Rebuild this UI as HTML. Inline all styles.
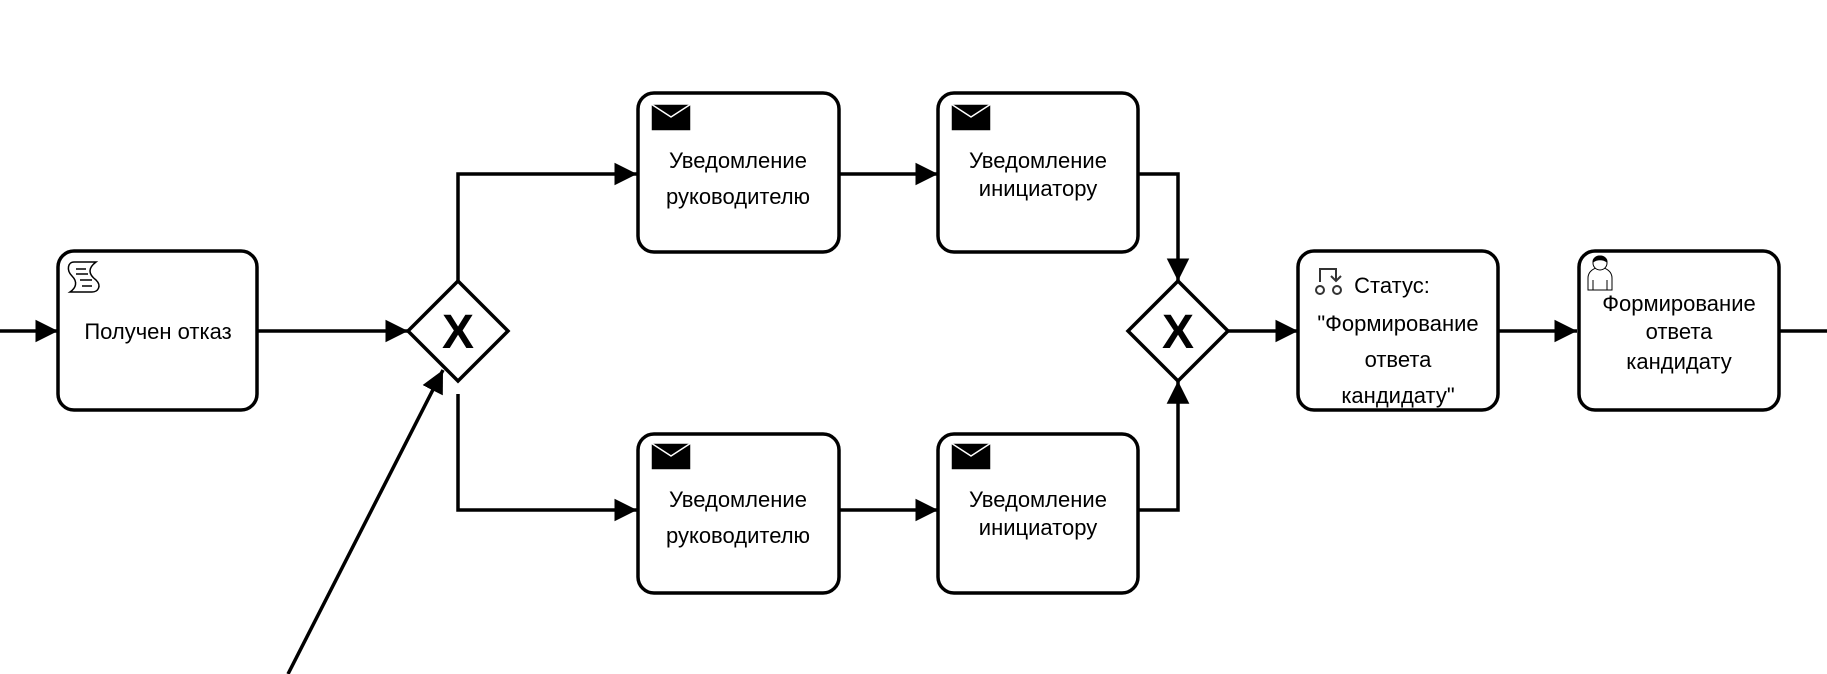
<!DOCTYPE html>
<html><head><meta charset="utf-8"><style>
html,body{margin:0;padding:0;background:#fff;}
svg{display:block;}
text{font-family:"Liberation Sans",Arial,sans-serif;font-size:22px;fill:#000;text-anchor:middle;}
</style></head><body>
<svg width="1827" height="674" viewBox="0 0 1827 674" xmlns="http://www.w3.org/2000/svg">
<defs>
<marker id="a" viewBox="0 0 10 10" refX="10" refY="5" markerWidth="6.5" markerHeight="6.5" markerUnits="strokeWidth" orient="auto">
<path d="M0,0 L10,5 L0,10 z" fill="#000"/></marker>
</defs>
<g stroke="#000" stroke-width="3.5" fill="none">
<line x1="0" y1="331" x2="58" y2="331" marker-end="url(#a)"/>
<line x1="257" y1="331" x2="408" y2="331" marker-end="url(#a)"/>
<polyline points="458,281 458,174 637,174" marker-end="url(#a)"/>
<polyline points="458,394 458,510 637,510" marker-end="url(#a)"/>
<line x1="839" y1="174" x2="938" y2="174" marker-end="url(#a)"/>
<line x1="839" y1="510" x2="938" y2="510" marker-end="url(#a)"/>
<polyline points="1138,174 1178,174 1178,281" marker-end="url(#a)"/>
<polyline points="1138,510 1178,510 1178,381" marker-end="url(#a)"/>
<line x1="1228" y1="331" x2="1298" y2="331" marker-end="url(#a)"/>
<line x1="1498" y1="331" x2="1577" y2="331" marker-end="url(#a)"/>
<line x1="1779" y1="331" x2="1827" y2="331"/>
<line x1="288" y1="674" x2="443" y2="370" marker-end="url(#a)"/>
<rect x="58" y="251" width="199" height="159" rx="16"/>
<rect x="638" y="93" width="201" height="159" rx="16"/>
<rect x="938" y="93" width="200" height="159" rx="16"/>
<rect x="638" y="434" width="201" height="159" rx="16"/>
<rect x="938" y="434" width="200" height="159" rx="16"/>
<rect x="1298" y="251" width="200" height="159" rx="16"/>
<rect x="1579" y="251" width="200" height="159" rx="16"/>
<polygon points="458,281 508,331 458,381 408,331" fill="#fff"/>
<polygon points="1178,281 1228,331 1178,381 1128,331" fill="#fff"/>
</g>
<text x="458" y="348" style="font-size:48px;font-weight:bold">X</text>
<text x="1178" y="348" style="font-size:48px;font-weight:bold">X</text>
<g fill="#000" stroke="#fff" stroke-width="1.5">
<path d="M651,104 h40 v27 h-40 z"/><path d="M651,104 l20,13 l20,-13" fill="none"/>
<path d="M951,104 h40 v27 h-40 z"/><path d="M951,104 l20,13 l20,-13" fill="none"/>
<path d="M651,443 h40 v27 h-40 z"/><path d="M651,443 l20,13 l20,-13" fill="none"/>
<path d="M951,443 h40 v27 h-40 z"/><path d="M951,443 l20,13 l20,-13" fill="none"/>
</g>
<g stroke="#000" stroke-width="1.5" fill="none">
<path d="M74,262 h22 c-8,6 -8,12 0,18 c6,6 2,12 -4,12 h-22 c6,-4 8,-10 2,-16 c-6,-6 -4,-14 2,-14 z"/>
<line x1="76" y1="269" x2="86" y2="269"/><line x1="76" y1="274" x2="88" y2="274"/>
<line x1="80" y1="280" x2="92" y2="280"/><line x1="82" y1="286" x2="92" y2="286"/>
</g>
<g stroke="#333" stroke-width="2" fill="none">
<path d="M1320,282 v-13 h16 v11"/><path d="M1331,276 l5,5 l5,-5"/>
<circle cx="1320" cy="290" r="4"/><circle cx="1337" cy="290" r="4"/>
</g>
<g stroke="#000" stroke-width="1">
<path d="M1588,290 v-12 c0,-8 8,-10 12,-12 c4,2 12,4 12,12 v12 z" fill="#fff"/>
<circle cx="1600" cy="263" r="7" fill="#fff"/>
<path d="M1593,262 c0,-8 14,-8 14,0 c-4,-3 -10,-3 -14,0 z" fill="#000"/>
<line x1="1593" y1="280" x2="1593" y2="290"/><line x1="1607" y1="280" x2="1607" y2="290"/>
</g>
<text x="158" y="339">Получен отказ</text>
<text x="738" y="168">Уведомление</text><text x="738" y="204">руководителю</text>
<text x="1038" y="168">Уведомление</text><text x="1038" y="196">инициатору</text>
<text x="738" y="507">Уведомление</text><text x="738" y="543">руководителю</text>
<text x="1038" y="507">Уведомление</text><text x="1038" y="535">инициатору</text>
<text x="1392" y="293">Статус:</text>
<text x="1398" y="331">"Формирование</text>
<text x="1398" y="367">ответа</text>
<text x="1398" y="403">кандидату"</text>
<text x="1679" y="311">Формирование</text>
<text x="1679" y="339">ответа</text>
<text x="1679" y="369">кандидату</text>
</svg>
</body></html>
